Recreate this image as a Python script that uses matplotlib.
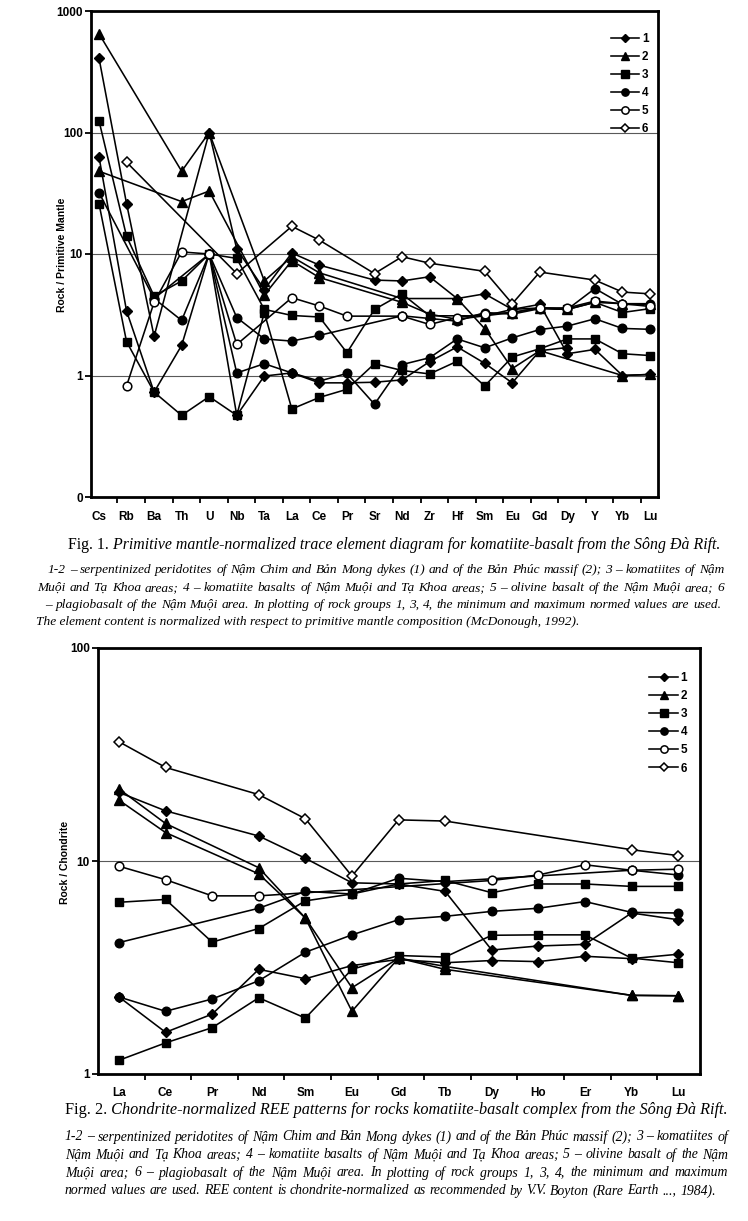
import numpy as np
import matplotlib
matplotlib.use("Agg")
import matplotlib.pyplot as plt

nan = np.nan

# ---------------- Fig. 1 data (primitive-mantle normalized) ----------------
el1 = ['Cs', 'Rb', 'Ba', 'Th', 'U', 'Nb', 'Ta', 'La', 'Ce', 'Pr', 'Sr', 'Nd',
       'Zr', 'Hf', 'Sm', 'Eu', 'Gd', 'Dy', 'Y', 'Yb', 'Lu']
f1_s1_max = [410, 26, 2.1, nan, 100, 11, 5.1, 10.2, 8.1, nan, 6.1, 6.0, 6.5, 4.3, 4.7, 3.5, 3.85, 1.51, 1.64, 1.0, 1.02]
f1_s1_min = [63, 3.4, 0.73, 1.77, 10, 0.47, 0.99, 1.05, 0.87, 0.87, 0.88, 0.92, 1.3, 1.72, 1.26, 0.87, 1.6, 1.7, nan, nan, nan]
f1_s2_a = [650, nan, nan, 48, 100, nan, 6.0, 9.5, 7.0, nan, nan, 4.3, nan, 4.3, 2.43, 1.14, 1.6, nan, nan, 1.0, 1.02]
f1_s2_b = [48, nan, nan, 27, 33, nan, 4.6, 8.8, 6.4, nan, nan, 4.0, 3.2, 2.9, 3.1, 3.3, 3.6, 3.5, 4.0, 3.9, 3.9]
f1_s3_max = [125, 14, 4.5, 6.0, 10, 9.2, 3.5, 3.12, 3.03, 1.54, 3.5, 4.7, 3.1, nan, 3.1, 3.5, 3.6, 3.5, 4.0, 3.3, 3.55]
f1_s3_min = [26, 1.9, 0.73, 0.47, 0.67, 0.47, 3.3, 0.53, 0.66, 0.77, 1.25, 1.1, 1.03, 1.31, 0.82, 1.42, 1.66, 2.0, 2.0, 1.51, 1.46]
f1_s4_max = [nan, nan, 4.3, 2.84, 10, 3.0, 2.0, 1.92, 2.14, nan, nan, 3.1, nan, 2.8, 3.3, 3.2, 3.55, 3.5, 5.2, 3.85, 3.85]
f1_s4_min = [32, nan, 4.3, nan, 10, 1.05, 1.25, 1.05, 0.90, 1.04, 0.58, 1.23, 1.4, 2.0, 1.69, 2.04, 2.39, 2.55, 2.93, 2.44, 2.4]
f1_s5 = [nan, 0.82, 4.0, 10.4, 10, 1.8, nan, 4.37, 3.73, 3.08, nan, 3.08, 2.63, 3.0, 3.2, 3.3, 3.6, 3.6, 4.1, 3.9, 3.7]
f1_s6 = [nan, 57, nan, nan, nan, 6.9, nan, 16.9, 13, nan, 6.9, 9.5, 8.4, nan, 7.2, 3.9, 7.1, nan, 6.1, 4.86, 4.7]
f1_yticks = [0.1, 1, 10, 100, 1000]
f1_yticklabels = ['0', '1', '10', '100', '1000']

# ---------------- Fig. 2 data (chondrite normalized REE) ----------------
el2 = ['La', 'Ce', 'Pr', 'Nd', 'Sm', 'Eu', 'Gd', 'Tb', 'Dy', 'Ho', 'Er', 'Yb', 'Lu']
f2_s1_max = [21, 17.2, nan, 13.1, 10.3, 7.9, 7.8, 7.2, 3.82, 3.99, 4.06, 5.7, 5.3]
f2_s1_min = [2.3, 1.57, 1.91, 3.1, 2.8, 3.23, 3.45, 3.33, 3.41, 3.37, 3.57, 3.48, 3.65]
f2_s2_a = [21.8, 15.0, nan, 9.3, 5.4, 2.54, 3.5, 3.1, nan, nan, nan, 2.34, 2.33]
f2_s2_b = [19.3, 13.6, nan, 8.7, 5.4, 1.97, 3.5, 3.2, nan, nan, nan, 2.34, 2.33]
f2_s3_max = [6.4, 6.6, 4.16, 4.82, 6.5, 7.0, 7.8, 8.1, 7.1, 7.8, 7.8, 7.6, 7.6]
f2_s3_min = [1.16, 1.4, 1.65, 2.28, 1.83, 3.1, 3.6, 3.54, 4.48, 4.5, 4.5, 3.5, 3.33]
f2_s4_max = [4.14, nan, nan, 6.0, 7.2, 7.0, 8.3, 8.0, nan, nan, nan, 9.05, 8.6]
f2_s4_min = [2.3, 1.97, 2.25, 2.74, 3.73, 4.5, 5.3, 5.5, 5.8, 6.0, 6.45, 5.74, 5.7]
f2_s5 = [9.45, 8.17, 6.86, 6.86, nan, nan, nan, nan, 8.1, 8.6, 9.6, 9.05, 9.15]
f2_s6 = [36.3, 27.5, nan, 20.5, 15.8, 8.5, 15.6, 15.4, nan, nan, nan, 11.3, 10.6]
f2_yticks = [1, 10, 100]
f2_yticklabels = ['1', '10', '100']

legend_labels = ['1', '2', '3', '4', '5', '6']

# ---------------- captions ----------------
cap1_head = "Fig. 1."
cap1_body = "Primitive mantle-normalized trace element diagram for komatiite-basalt from the Sông Đà Rift."
cap1_lines = [
    "1-2 – serpentinized peridotites of Nậm Chim and Bản Mong dykes (1) and of the Bản Phúc massif (2); 3 – komatiites of Nậm",
    "Muội and Tạ Khoa areas; 4 – komatiite basalts of Nậm Muội and Tạ Khoa areas; 5 – olivine basalt of the Nậm Muội area; 6",
    "– plagiobasalt of the Nậm Muội area. In plotting of rock groups 1, 3, 4, the minimum and maximum normed values are used.",
    "The element content is normalized with respect to primitive mantle composition (McDonough, 1992).",
]
cap2_head = "Fig. 2."
cap2_body = "Chondrite-normalized REE patterns for rocks komatiite-basalt complex from the Sông Đà Rift."
cap2_lines = [
    "1-2 – serpentinized peridotites of Nậm Chim and Bản Mong dykes (1) and of the Bản Phúc massif (2); 3 – komatiites of",
    "Nậm Muội and Tạ Khoa areas; 4 – komatiite basalts of Nậm Muội and Tạ Khoa areas; 5 – olivine basalt of the Nậm",
    "Muội area; 6 – plagiobasalt of the Nậm Muội area. In plotting of rock groups 1, 3, 4, the minimum and maximum",
    "normed values are used. REE content is chondrite-normalized as recommended by V.V. Boyton (Rare Earth ..., 1984).",
]

# ---------------- styling ----------------
SANS = ['Liberation Sans', 'DejaVu Sans']
SERIF = ['Liberation Serif', 'DejaVu Serif']
W, H = 748, 1221
fig = plt.figure(figsize=(W / 100, H / 100), dpi=100)
fig.patch.set_facecolor('white')

styles = {
    1: dict(marker='D', ms=5.2, mfc='black', mec='black'),
    2: dict(marker='^', ms=6.8, mfc='black', mec='black'),
    3: dict(marker='s', ms=6.2, mfc='black', mec='black'),
    4: dict(marker='o', ms=6.2, mfc='black', mec='black'),
    5: dict(marker='o', ms=6.2, mfc='white', mec='black', mew=1.1),
    6: dict(marker='D', ms=5.0, mfc='white', mec='black', mew=1.1),
}


def px_axes(l, t, r, b):
    return fig.add_axes([l / W, (H - b) / H, (r - l) / W, (b - t) / H])


def draw_series(ax, x, groups):
    handles = {}
    for g, arrs in groups:
        for arr in arrs:
            a = np.asarray(arr, dtype=float)
            m = ~np.isnan(a)
            ln, = ax.plot(np.asarray(x)[m], a[m], color='black', lw=1.15, **styles[g])
            handles.setdefault(g, ln)
    return [handles[g] for g in range(1, 7)]


def style_axes(ax, labels, xlim, boundaries, yticks, ylabels, grid_vals, xpad):
    ax.set_yscale('log')
    ax.set_xlim(*xlim)
    for s in ax.spines.values():
        s.set_linewidth(2.0)
    ax.set_yticks(yticks)
    ax.set_yticklabels(ylabels)
    ax.yaxis.set_minor_locator(matplotlib.ticker.NullLocator())
    ax.set_xticks(range(len(labels)))
    ax.set_xticklabels(labels)
    ax.set_xticks(boundaries, minor=True)
    ax.tick_params(axis='x', which='major', length=0, pad=xpad)
    ax.tick_params(axis='x', which='minor', length=4, width=1.3, direction='out')
    ax.tick_params(axis='y', which='major', length=4, width=1.3, direction='out', pad=2)
    for lab in ax.get_xticklabels() + ax.get_yticklabels():
        lab.set_fontfamily(SANS)
        lab.set_fontweight('bold')
        lab.set_fontsize(8.5)
    for lab in ax.get_xticklabels():
        lab.set_verticalalignment('baseline')
    for v in grid_vals:
        ax.axhline(v, color='0.35', lw=0.8, zorder=0)


def add_legend(ax, handles, anchor):
    ax.legend(handles, legend_labels, loc='upper left', bbox_to_anchor=anchor,
              frameon=False, handlelength=2.4, handletextpad=0.25, labelspacing=0.52,
              borderaxespad=0, markerscale=0.85,
              prop=dict(family=SANS, weight='bold', size=8.5))


# ---------------- Fig. 1 ----------------
ax1 = px_axes(91, 11, 658, 497)
x1 = np.arange(len(el1))
h1 = draw_series(ax1, x1, [
    (1, [f1_s1_max, f1_s1_min]), (2, [f1_s2_a, f1_s2_b]), (3, [f1_s3_max, f1_s3_min]),
    (4, [f1_s4_max, f1_s4_min]), (5, [f1_s5]), (6, [f1_s6])])
ax1.set_ylim(0.1, 1000)
style_axes(ax1, el1, (-0.29, 20.29), np.arange(len(el1) - 1) + 0.67,
           f1_yticks, f1_yticklabels, [1, 10, 100], xpad=16.5)
add_legend(ax1, h1, (0.908, 0.965))
fig.text(62 / W, 1 - 255 / H, 'Rock / Primitive Mantle', rotation=90, ha='center', va='center',
         fontsize=7.5, fontweight='bold', family=SANS)

# ---------------- Fig. 2 ----------------
ax2 = px_axes(98, 648, 700, 1074)
x2 = np.arange(len(el2))
h2 = draw_series(ax2, x2, [
    (1, [f2_s1_max, f2_s1_min]), (2, [f2_s2_a, f2_s2_b]), (3, [f2_s3_max, f2_s3_min]),
    (4, [f2_s4_max, f2_s4_min]), (5, [f2_s5]), (6, [f2_s6])])
ax2.set_ylim(1, 100)
style_axes(ax2, el2, (-0.45, 12.47), np.arange(len(el2) - 1) + 0.55,
           f2_yticks, f2_yticklabels, [10], xpad=16.0)
add_legend(ax2, h2, (0.908, 0.955))
fig.text(65 / W, 1 - 862 / H, 'Rock / Chondrite', rotation=90, ha='center', va='center',
         fontsize=7.5, fontweight='bold', family=SANS)

# ---------------- captions ----------------
renderer = fig.canvas.get_renderer()


def fig_xy(x, y):
    return x / W, 1 - y / H


def width_of(t):
    return t.get_window_extent(renderer).width


def caption_head(head, body, x0, x1, y, base=11.0):
    t1 = fig.text(*fig_xy(x0, y), head, fontsize=base, family=SERIF, va='center', ha='left')
    t2 = fig.text(*fig_xy(x0, y), ' ' + body, fontsize=base, family=SERIF, style='italic',
                  va='center', ha='left')
    tot = width_of(t1) + width_of(t2)
    size = base * (x1 - x0) / tot
    t1.set_fontsize(size); t2.set_fontsize(size)
    t2.set_position(fig_xy(x0 + width_of(t1), y))


def fit_size(lines, spans, base=10.0):
    sizes = []
    for ln, (a, b) in zip(lines, spans):
        t = fig.text(0, 0, ln, fontsize=base, family=SERIF, style='italic')
        sizes.append(base * (b - a) / width_of(t))
        t.remove()
    return min(sizes) * 0.995


def justify(line, x0, x1, y, size):
    words = line.split(' ')
    objs = [fig.text(0, 0, w, fontsize=size, family=SERIF, style='italic', va='center', ha='left')
            for w in words]
    widths = [width_of(o) for o in objs]
    gap = (x1 - x0 - sum(widths)) / max(len(words) - 1, 1)
    x = x0
    for o, w in zip(objs, widths):
        o.set_position(fig_xy(x, y))
        x += w + gap


def plain(line, x0, y, size):
    fig.text(*fig_xy(x0, y), line, fontsize=size, family=SERIF, style='italic',
             va='center', ha='left')


caption_head(cap1_head, cap1_body, 68, 722, 545)
ys1 = [570, 588, 605, 622]
xs1 = [(48, 724), (37, 724), (45, 721)]
sz1 = fit_size(cap1_lines[:3], xs1)
for ln, y, (a, b) in zip(cap1_lines[:3], ys1[:3], xs1):
    justify(ln, a, b, y, sz1)
plain(cap1_lines[3], 36, ys1[3], sz1)

caption_head(cap2_head, cap2_body, 65, 728, 1110)
ys2 = [1137, 1155, 1173, 1191]
xs2 = [(65, 728), (65, 728), (65, 728), (65, 716)]
sz2 = fit_size(cap2_lines, xs2)
for ln, y, (a, b) in zip(cap2_lines, ys2, xs2):
    justify(ln, a, b, y, sz2)

fig.savefig('out.png', dpi=100, facecolor='white')
